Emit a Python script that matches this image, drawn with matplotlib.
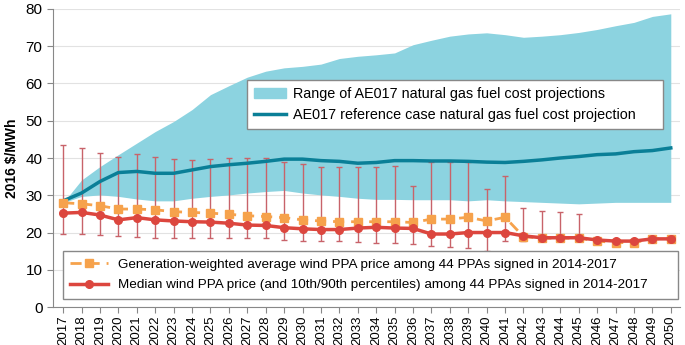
import numpy as np
import matplotlib
matplotlib.use('Agg')
import matplotlib.pyplot as plt
from matplotlib.patches import Patch
from matplotlib.lines import Line2D

plt.rcParams['font.family'] = ['Liberation Sans', 'DejaVu Sans']

years = np.arange(2017, 2051)

# AEO2017 natural gas fuel cost range (low / high) and reference case
gas_low = [28.0, 29.7, 30.1, 29.7, 29.0, 28.5, 28.5, 29.2, 29.7, 30.1, 30.6, 31.0,
           31.3, 30.6, 30.1, 29.7, 29.2, 28.9, 28.9, 28.8, 28.8, 28.8, 28.5, 28.8,
           28.5, 28.3, 28.1, 27.9, 27.7, 27.9, 28.1, 28.1, 28.1, 28.1]
gas_high = [28.0, 34.1, 37.7, 40.9, 44.0, 47.1, 49.8, 53.0, 57.0, 59.4, 61.7, 63.3,
            64.2, 64.6, 65.2, 66.7, 67.3, 67.7, 68.2, 70.4, 71.6, 72.7, 73.3, 73.6,
            73.1, 72.4, 72.7, 73.1, 73.7, 74.5, 75.5, 76.4, 78.0, 78.7]
gas_ref = [28.5, 30.6, 33.7, 36.1, 36.4, 35.9, 35.9, 36.8, 37.7, 38.2, 38.6, 39.1,
           39.7, 39.7, 39.3, 39.1, 38.6, 38.8, 39.3, 39.3, 39.2, 39.2, 39.1, 38.9,
           38.8, 39.1, 39.5, 40.0, 40.4, 40.9, 41.1, 41.7, 42.0, 42.7]

# wind PPA prices
ppa_avg = [28.0, 27.7, 27.2, 26.3, 26.3, 26.1, 25.6, 25.4, 25.2, 24.9, 24.5, 24.3,
           24.0, 23.4, 23.1, 22.9, 22.9, 22.9, 22.9, 22.7, 23.6, 23.6, 24.1, 23.1,
           24.1, 18.9, 18.5, 18.5, 18.5, 17.7, 17.3, 17.3, 18.3, 18.3]
ppa_med = [25.2, 25.4, 24.7, 23.4, 24.0, 23.4, 23.1, 22.9, 22.8, 22.5, 22.0, 21.9,
           21.3, 21.0, 20.8, 20.8, 21.2, 21.4, 21.2, 21.1, 19.6, 19.6, 20.0, 20.0,
           20.0, 19.1, 18.6, 18.6, 18.6, 18.0, 17.7, 17.7, 18.3, 18.3]
ppa_p90 = [43.5, 42.7, 41.3, 40.4, 41.1, 40.4, 39.7, 39.5, 39.7, 40.0, 40.0, 40.0,
           38.9, 38.4, 37.6, 37.7, 37.6, 37.6, 37.9, 32.4, 38.9, 38.9, 38.9, 31.8,
           35.1, 26.5, 25.9, 25.4, 25.0, np.nan, np.nan, np.nan, np.nan, np.nan]
ppa_p10 = [19.5, 19.5, 19.4, 19.1, 18.9, 18.6, 18.6, 18.6, 18.6, 18.6, 18.5, 18.5,
           18.0, 17.8, 17.8, 17.6, 17.4, 17.2, 17.2, 16.9, 16.4, 16.2, 15.8, 15.1,
           17.7, 17.8, 17.8, 17.8, 17.6, np.nan, np.nan, np.nan, np.nan, np.nan]

fig = plt.figure(figsize=(6.85, 3.45), dpi=100)
ax = fig.add_axes([0.0774, 0.110, 0.9153, 0.864])

fan_col = '#8cd3e0'
ref_col = '#0a7f97'
med_col = '#dc463e'
avg_col = '#f6a24c'
bar_col = '#c8636a'

ax.fill_between(years, gas_low, gas_high, color=fan_col, lw=0, zorder=1)
ax.plot(years, gas_ref, color=ref_col, lw=2.5, zorder=3)

med = np.array(ppa_med)
p10 = np.array(ppa_p10)
p90 = np.array(ppa_p90)
ok = ~np.isnan(p90)
ax.errorbar(years[ok], med[ok], yerr=[med[ok] - p10[ok], p90[ok] - med[ok]],
            fmt='none', ecolor=bar_col, elinewidth=1.0, capsize=2.5, capthick=1.0, zorder=2)

ax.plot(years, ppa_avg, color=avg_col, lw=2, ls=(0, (4, 2.5)), marker='s', ms=5.5, zorder=4)
ax.plot(years, ppa_med, color=med_col, lw=2.5, marker='o', ms=5.5, zorder=5)

ax.set_xlim(2016.45, 2050.5)
ax.set_ylim(0, 80)
ax.set_xticks(years)
ax.set_xticklabels([str(y) for y in years], rotation=90, fontsize=9.5)
ax.set_yticks(range(0, 81, 10))
ax.tick_params(axis='y', labelsize=11, length=4, color='#888888')
ax.tick_params(axis='x', length=4, color='#888888', pad=2)
ax.grid(axis='y', color='#e2e2e2', lw=0.8, zorder=0)
ax.set_axisbelow(True)
for s in ['top', 'right']:
    ax.spines[s].set_visible(False)
for s in ['left', 'bottom']:
    ax.spines[s].set_color('#888888')
ax.set_ylabel('2016 $/MWh', fontsize=10, fontweight='bold', labelpad=5)

h1 = [Patch(color=fan_col), Line2D([], [], color=ref_col, lw=2.5)]
leg1 = ax.legend(h1, ['Range of AE017 natural gas fuel cost projections',
                      'AE017 reference case natural gas fuel cost projection'],
                 loc='upper left', bbox_to_anchor=(0.309, 0.752, 0.664, 0.01),
                 mode='expand', fontsize=10.4, fancybox=False, edgecolor='#888888',
                 framealpha=1, handlelength=2.2, handletextpad=0.5, borderpad=0.5,
                 labelspacing=0.45, borderaxespad=0)
ax.add_artist(leg1)

h2 = [Line2D([], [], color=avg_col, lw=2, ls=(0, (4, 2.5)), marker='s', ms=5.5),
      Line2D([], [], color=med_col, lw=2.5, marker='o', ms=5.5)]
ax.legend(h2, ['Generation-weighted average wind PPA price among 44 PPAs signed in 2014-2017',
               'Median wind PPA price (and 10th/90th percentiles) among 44 PPAs signed in 2014-2017'],
          loc='upper left', bbox_to_anchor=(0.016, 0.178, 0.981, 0.01),
          mode='expand', fontsize=9.7, fancybox=False, edgecolor='#888888',
          framealpha=1, handlelength=2.8, handletextpad=0.7, borderpad=0.55,
          labelspacing=0.6, borderaxespad=0)

fig.savefig('out.png', dpi=100)
